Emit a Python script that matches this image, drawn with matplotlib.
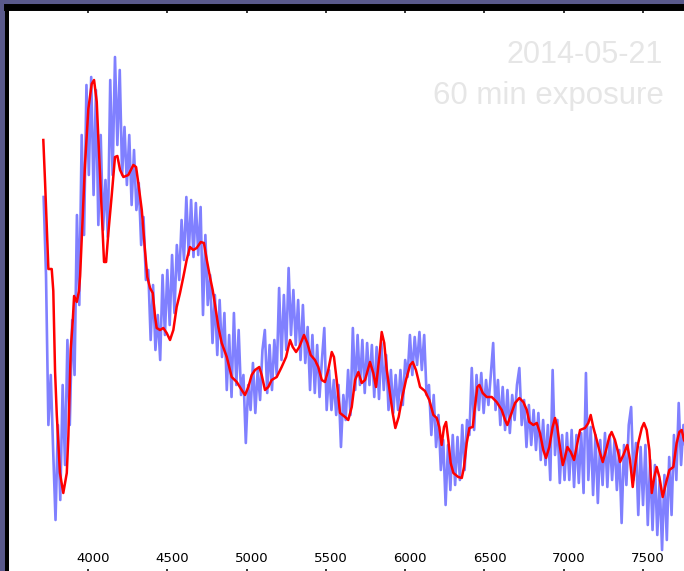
import numpy as np
import matplotlib
matplotlib.use("Agg")
import matplotlib.pyplot as plt
from matplotlib.transforms import ScaledTranslation

# Observed spectrum (blue), sampled every 15 Angstrom, arbitrary flux units
blue_wl = np.arange(3720, 3720 + 15 * 271, 15)
blue_flux = [
    378, 300, 150, 200, 125, 55, 150, 75, 190, 110,
    235, 150, 255, 200, 360, 270, 440, 340, 490, 400,
    498, 380, 485, 350, 440, 345, 395, 338, 495, 400,
    518, 430, 505, 400, 448, 390, 440, 370, 425, 365,
    392, 330, 358, 295, 305, 235, 290, 225, 260, 215,
    300, 240, 305, 250, 320, 262, 330, 295, 355, 315,
    378, 320, 375, 318, 372, 320, 368, 260, 340, 270,
    300, 232, 280, 220, 275, 218, 262, 185, 240, 178,
    262, 190, 245, 180, 200, 132, 190, 165, 212, 162,
    205, 175, 225, 245, 182, 230, 185, 235, 200, 287,
    215, 280, 225, 307, 240, 285, 230, 275, 215, 270,
    212, 248, 185, 240, 182, 230, 178, 215, 247, 165,
    205, 165, 195, 160, 190, 128, 180, 155, 205, 160,
    247, 185, 240, 190, 235, 182, 232, 190, 230, 178,
    228, 176, 232, 185, 220, 165, 205, 162, 200, 165,
    205, 170, 215, 198, 240, 200, 238, 210, 243, 205,
    240, 180, 190, 140, 180, 128, 160, 105, 135, 70,
    130, 85, 140, 90, 138, 95, 150, 105, 155, 140,
    207, 145, 200, 165, 202, 162, 195, 170, 200, 232,
    165, 195, 150, 188, 145, 185, 142, 180, 155, 190,
    207, 150, 175, 128, 170, 130, 165, 125, 162, 115,
    155, 110, 150, 95, 205, 120, 155, 92, 140, 95,
    142, 95, 145, 88, 140, 92, 142, 82, 202, 95,
    148, 80, 140, 72, 135, 90, 142, 88, 140, 95,
    135, 85, 125, 52, 130, 90, 150, 168, 95, 132,
    60, 128, 70, 130, 50, 115, 45, 110, 40, 95,
    25, 100, 35, 118, 60, 140, 95, 172, 110, 150, 120,
]

# Smoothed spectrum (red)
red_wl = [
    3718, 3729, 3740, 3750, 3771, 3781, 3792, 3803, 3823, 3844,
    3866, 3876, 3891, 3904, 3912, 3929, 3943, 3950, 3960, 3981,
    4002, 4023, 4038, 4055, 4065, 4076, 4086, 4101, 4114, 4128,
    4149, 4170, 4185, 4202, 4223, 4254, 4286, 4303, 4317, 4339,
    4359, 4374, 4391, 4408, 4423, 4433, 4454, 4475, 4496, 4517,
    4538, 4559, 4580, 4601, 4622, 4643, 4664, 4685, 4711, 4731,
    4749, 4769, 4786, 4801, 4822, 4843, 4875, 4906, 4938, 4969,
    4990, 5011, 5032, 5053, 5080, 5095, 5116, 5137, 5158, 5190,
    5221, 5249, 5274, 5291, 5312, 5332, 5362, 5383, 5404, 5431,
    5452, 5474, 5494, 5515, 5537, 5551, 5568, 5589, 5621, 5641,
    5663, 5684, 5705, 5726, 5747, 5778, 5799, 5816, 5837, 5852,
    5868, 5884, 5904, 5921, 5938, 5959, 5978, 6005, 6031, 6048,
    6068, 6094, 6125, 6152, 6178, 6199, 6215, 6230, 6245, 6258,
    6272, 6287, 6304, 6335, 6357, 6371, 6388, 6405, 6426, 6440,
    6455, 6468, 6489, 6514, 6546, 6577, 6609, 6630, 6644, 6666,
    6693, 6720, 6745, 6767, 6783, 6808, 6830, 6850, 6871, 6888,
    6909, 6930, 6945, 6959, 6976, 6994, 7008, 7023, 7044, 7065,
    7086, 7103, 7134, 7155, 7170, 7186, 7208, 7229, 7246, 7267,
    7287, 7302, 7323, 7344, 7355, 7376, 7401, 7418, 7435, 7449,
    7470, 7492, 7506, 7523, 7540, 7555, 7571, 7586, 7603, 7624,
    7645, 7666, 7691, 7712, 7729, 7744, 7758, 7777,
]
red_flux = [
    435, 393, 346, 306, 306, 284, 204, 160, 102, 82,
    102, 139, 226, 255, 279, 273, 284, 299, 335, 411,
    466, 491, 495, 473, 437, 400, 364, 313, 313, 342,
    379, 418, 419, 405, 398, 400, 410, 408, 392, 365,
    325, 298, 287, 282, 258, 247, 245, 247, 242, 235,
    245, 268, 282, 298, 315, 328, 325, 327, 333, 332,
    315, 298, 285, 270, 248, 232, 218, 198, 193, 185,
    180, 188, 200, 205, 208, 200, 185, 188, 195, 198,
    208, 218, 235, 228, 223, 228, 240, 232, 220, 215,
    208, 195, 193, 205, 223, 218, 195, 162, 158, 155,
    168, 195, 203, 192, 195, 213, 202, 188, 218, 243,
    232, 205, 182, 162, 147, 158, 175, 195, 210, 213,
    205, 188, 184, 175, 160, 157, 148, 130, 148, 153,
    135, 112, 102, 98, 97, 108, 132, 147, 148, 168,
    188, 190, 182, 178, 178, 173, 165, 155, 150, 160,
    172, 177, 173, 165, 153, 150, 152, 142, 125, 117,
    128, 148, 157, 148, 128, 110, 118, 128, 123, 115,
    132, 145, 147, 152, 160, 148, 135, 122, 113, 125,
    138, 143, 135, 122, 113, 120, 130, 115, 88, 108,
    132, 147, 152, 145, 125, 82, 98, 108, 98, 78,
    92, 105, 108, 132, 143, 145, 135, 130,
]

tick_values = [4000, 4500, 5000, 5500, 6000, 6500, 7000, 7500]
tick_labels = ["4000", "4500", "5000", "5500", "6000", "6500", "7000", "7500"]

fig = plt.figure(figsize=(6.84, 5.71), dpi=100)
fig.patch.set_facecolor("#5a5a8c")

ax = fig.add_axes([7 / 684, -4 / 571, 683.6 / 684, 568.5 / 571])
ax.set_facecolor("white")

ax.plot(blue_wl, blue_flux, color="#8080ff", lw=1.9, zorder=2)
ax.plot(red_wl, red_flux, color="red", lw=1.8, zorder=3)

ax.set_xlim(3489, 7800)
ax.set_ylim(0, 568.5)
ax.set_xticks(tick_values)
ax.set_xticklabels(tick_labels)
ax.set_yticks([])
ax.tick_params(axis="x", direction="in", top=True, bottom=True,
               length=4.5, width=1.1, color="black",
               pad=-16.5, labelsize=9.5, labelcolor="black")

for side in ("right", "bottom"):
    ax.spines[side].set_visible(False)
ax.spines["top"].set_linewidth(5)
ax.spines["left"].set_linewidth(2.9)

shift = ScaledTranslation(5 / 100, 0, fig.dpi_scale_trans)
for lab in ax.get_xticklabels():
    lab.set_transform(lab.get_transform() + shift)

fig.text(663 / 684, (571 - 63) / 571, "2014-05-21", ha="right", va="baseline",
         fontsize=22, color="#e6e6e6", family="Liberation Sans")
fig.text(664 / 684, (571 - 104) / 571, "60 min exposure", ha="right", va="baseline",
         fontsize=22.5, color="#e6e6e6", family="Liberation Sans")

fig.savefig("out.png", dpi=100, facecolor=fig.get_facecolor())
